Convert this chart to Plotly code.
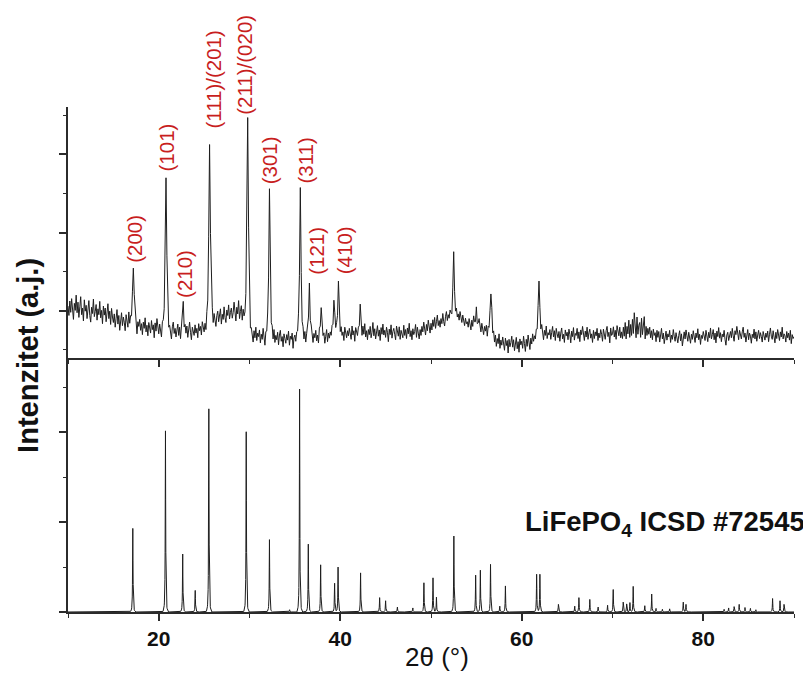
import numpy as np
import plotly.graph_objects as go

# ---------------- data ----------------
# measured pattern: background/noise sampled every 0.1 deg from 10.0 to 90.0 (arb. units)
two_theta_start = 10.0
two_theta_step = 0.1
measured_background = [
    212,188,225,196,231,205,178,219,201,240,
    195,222,183,210,236,190,207,174,228,199,
    214,180,203,226,188,171,209,193,230,185,
    198,216,176,205,190,224,182,201,167,212,
    189,207,172,196,218,180,199,165,206,184,
    170,192,158,181,203,166,188,150,177,195,
    162,184,171,149,190,174,158,197,168,180,
    163,176,148,169,186,157,141,172,160,178,
    150,167,139,171,155,182,146,163,136,170,
    158,143,175,152,164,131,169,148,180,154,
    141,166,150,133,172,157,145,168,139,160,
    152,138,163,147,128,159,171,142,155,133,
    149,166,137,158,126,152,143,169,134,157,
    140,161,132,153,171,145,126,158,150,137,
    164,143,155,131,167,149,160,138,172,154,
    146,168,152,175,158,181,163,190,171,186,
    170,193,176,160,188,199,172,184,205,166,
    191,178,210,183,170,202,188,215,179,196,
    207,181,195,222,186,174,209,192,226,180,
    198,213,176,204,187,170,163,181,152,170,
    146,129,157,138,120,149,131,158,124,143,
    134,151,118,140,127,155,136,112,147,130,
    140,121,150,133,115,144,128,152,119,137,
    126,145,113,138,150,122,134,108,141,129,
    117,139,125,148,112,135,127,143,104,131,
    138,122,146,130,139,126,149,133,118,141,
    128,147,120,136,152,125,140,116,144,132,
    119,142,131,150,123,138,114,145,129,137,
    148,126,140,117,135,152,121,143,130,146,
    133,150,127,141,156,138,147,132,151,140,
    128,153,137,146,124,158,139,131,149,136,
    155,142,127,161,138,149,122,157,141,134,
    150,137,162,145,129,158,140,167,133,149,
    126,152,139,160,131,145,170,136,154,128,
    146,162,135,151,124,157,140,166,138,150,
    132,158,145,121,153,139,164,130,147,155,
    140,126,161,148,135,159,127,150,143,131,
    163,137,152,129,156,141,168,134,149,126,
    154,139,147,165,132,158,143,128,152,137,
    160,146,171,152,138,165,149,176,157,143,
    168,151,177,160,183,155,172,189,162,175,
    158,180,167,193,172,161,186,198,175,190,
    181,202,188,171,195,210,186,178,200,184,
    192,176,198,183,170,189,174,162,181,167,
    172,158,180,165,151,176,160,185,166,154,
    170,149,163,178,157,146,168,152,139,160,
    148,163,135,155,141,150,132,158,127,143,
    120,138,109,129,116,141,104,125,112,133,
    118,99,130,111,124,92,127,108,119,135,
    107,126,98,118,132,103,121,94,128,113,
    122,104,135,116,96,127,109,138,119,101,
    130,115,141,122,136,128,146,133,152,139,
    147,133,158,140,126,150,137,161,129,144,
    138,152,127,145,160,133,149,124,155,141,
    131,147,122,143,156,128,140,119,151,136,
    145,126,153,139,118,148,134,157,125,142,
    137,155,129,146,121,151,139,160,132,124,
    148,133,158,127,144,153,130,141,119,150,
    129,146,136,155,124,143,131,152,140,122,
    153,138,127,149,160,134,145,118,156,137,
    141,159,133,150,127,162,144,136,158,131,
    146,129,158,135,170,128,160,141,176,132,
    165,137,178,142,195,150,131,184,140,163,
    170,132,181,139,163,185,128,160,137,155,
    140,158,131,149,126,153,137,144,121,150,
    132,147,120,140,155,128,143,116,139,148,
    125,141,133,150,119,138,127,152,135,122,
    144,130,118,137,149,123,141,110,132,146,
    128,151,136,122,145,133,117,140,127,149,
    135,119,143,131,154,126,140,114,137,129,
    147,133,124,150,138,121,145,131,156,128,
    139,152,126,143,118,148,134,157,130,144,
    121,140,133,150,127,112,138,145,124,141,
    147,131,155,136,122,149,139,160,133,126,
    150,137,128,146,158,132,143,120,139,152,
    126,143,135,117,140,131,153,128,146,122,
    138,150,129,144,134,120,147,138,125,143,
    132,148,121,140,156,135,127,149,130,118,
    145,129,152,137,124,146,133,158,128,141,
    136,120,147,131,143,125,150,116,139,129,
    134,
]

# measured Bragg peaks (2theta, height above background)
measured_peak_pos = [17.2, 20.8, 22.7, 25.6, 29.8, 32.2, 35.6, 36.6, 37.9, 39.3,
                     39.8, 42.2, 52.5, 55.0, 56.6, 61.9]
measured_peak_height = [161, 401, 55, 462, 542, 362, 366, 131, 71, 86,
                        125, 55, 141, 40, 111, 137]

# reference pattern LiFePO4 ICSD #72545 (2theta, intensity)
reference_peak_pos = [17.14, 20.74, 22.65, 24.02, 25.52, 29.64, 32.21, 34.42, 35.52, 36.48,
                      37.84, 39.38, 39.75, 42.25, 44.34, 45.0, 46.3, 48.0, 49.23, 50.22,
                      50.6, 52.51, 54.93, 55.45, 56.55, 57.58, 58.21, 61.63, 61.99, 64.05,
                      65.85, 66.29, 67.5, 68.42, 69.46, 70.08, 71.18, 71.55, 71.92, 72.28,
                      73.57, 74.31, 74.8, 75.5, 76.3, 77.8, 78.1, 82.3, 82.8, 83.4,
                      83.97, 84.6, 85.2, 85.8, 87.65, 88.46, 88.9]
reference_peak_height = [186, 403, 129, 48, 452, 401, 161, 5, 496, 151,
                         105, 64, 100, 87, 32, 25, 11, 9, 65, 76,
                         33, 169, 82, 93, 106, 13, 58, 84, 84, 17,
                         13, 32, 28, 11, 15, 50, 22, 18, 21, 57,
                         14, 40, 8, 6, 7, 22, 17, 6, 9, 12,
                         17, 10, 8, 5, 30, 25, 17]

# hkl labels and where they sit (2theta, intensity in the measured-pattern units)
hkl_labels = ["(200)", "(101)", "(210)", "(111)/(201)", "(211)/(020)",
              "(301)", "(311)", "(121)", "(410)"]
hkl_label_x = [17.32, 20.82, 22.84, 25.93, 29.46, 32.2, 36.18, 37.36, 40.49]
hkl_label_y = [385, 618, 293, 790, 828, 586, 583, 354, 354]

x_tick_vals = [20, 40, 60, 80]
x_tick_text = ["20", "40", "60", "80"]

# ---------------- build line shapes ----------------
top_profile = [1.0, 0.45, 0.15, 0.05]  # peak shape at 0.1 deg sampling
x_top = np.round(two_theta_start + two_theta_step * np.arange(len(measured_background)), 2)
y_top = np.array(measured_background, dtype=float)
for p, h in zip(measured_peak_pos, measured_peak_height):
    i = int(round((p - two_theta_start) / two_theta_step))
    for k, f in enumerate(top_profile):
        for j in {i - k, i + k}:
            if 0 <= j < len(y_top):
                y_top[j] += h * f

bot_step = 0.02
bot_profile = [1.0, 0.62, 0.33, 0.18, 0.11, 0.075, 0.05, 0.035, 0.026, 0.02,
               0.015, 0.011, 0.008, 0.005, 0.003]
x_bot = np.round(10 + bot_step * np.arange(4001), 2)
y_bot = np.zeros_like(x_bot)
for p, h in zip(reference_peak_pos, reference_peak_height):
    i = int(round((p - 10) / bot_step))
    for k, f in enumerate(bot_profile):
        for j in {i - k, i + k}:
            if 0 <= j < len(y_bot):
                y_bot[j] += h * f

# ---------------- figure ----------------
FONT = "Liberation Sans, Arial, sans-serif"
AX = "#2b2b2b"
RED = "#c81e1e"
SPLIT = 0.502
TOP_RANGE = [78, 721]
BOT_RANGE = [0, 564]

fig = go.Figure()
fig.add_trace(go.Scatter(x=x_top, y=y_top, mode="lines", xaxis="x2", yaxis="y2",
                         line=dict(color="#1e1e1e", width=1), showlegend=False,
                         hoverinfo="skip"))
fig.add_trace(go.Scatter(x=x_bot, y=y_bot, mode="lines", xaxis="x", yaxis="y",
                         line=dict(color="#1e1e1e", width=1), showlegend=False,
                         hoverinfo="skip"))

common_x = dict(range=[10, 90], showgrid=False, zeroline=False, showline=True,
                linecolor=AX, linewidth=1.5, ticks="outside", ticklen=7,
                tickwidth=1.5, tickcolor=AX, tickvals=x_tick_vals, ticktext=x_tick_text,
                minor=dict(tickvals=[10, 30, 50, 70, 90], ticks="outside", ticklen=4,
                           tickwidth=1.3, tickcolor=AX))
common_y = dict(showgrid=False, zeroline=False, showline=True, linecolor=AX,
                linewidth=1.5, ticks="outside", ticklen=7, tickwidth=1.5,
                tickcolor=AX, showticklabels=False, tick0=0, dtick=200,
                minor=dict(tick0=0, dtick=100, ticks="outside", ticklen=3.5,
                           tickwidth=1.3, tickcolor=AX))

annotations = []
for t, lx, ly in zip(hkl_labels, hkl_label_x, hkl_label_y):
    frac = (ly - TOP_RANGE[0]) / (TOP_RANGE[1] - TOP_RANGE[0])
    annotations.append(dict(x=lx, y=frac, xref="x2", yref="y2 domain", text=t,
                            showarrow=False, textangle=-90, xanchor="center",
                            yanchor="middle",
                            font=dict(family=FONT, size=20.5, color=RED)))
annotations.append(dict(x=-0.0545, y=0.508, xref="paper", yref="paper",
                        text="<b>Intenzitet (a.j.)</b>", showarrow=False, textangle=-90,
                        xanchor="center", yanchor="middle",
                        font=dict(family=FONT, size=29, color="#111")))
annotations.append(dict(x=0.508, y=-0.09, xref="paper", yref="paper",
                        text="2θ (°)", showarrow=False, xanchor="center",
                        yanchor="middle", font=dict(family=FONT, size=26, color="#111")))
annotations.append(dict(x=1.018, y=0.176, xref="paper", yref="paper",
                        text="<b>LiFePO<sub>4</sub> ICSD #72545</b>", showarrow=False,
                        xanchor="right", yanchor="middle",
                        font=dict(family=FONT, size=27.5, color="#111")))

# page body has an 8px default margin, so the figure is 8px smaller than the window
fig.update_layout(
    width=803, height=667,
    margin=dict(l=60, r=17, t=99, b=63),
    paper_bgcolor="white", plot_bgcolor="white",
    xaxis=dict(domain=[0, 1], anchor="y", showticklabels=True,
               tickfont=dict(family=FONT, size=21, color="#111", weight="bold"),
               **common_x),
    xaxis2=dict(domain=[0, 1], anchor="y2", showticklabels=False, **common_x),
    yaxis=dict(domain=[0, SPLIT], anchor="x", range=BOT_RANGE, **common_y),
    yaxis2=dict(domain=[SPLIT, 1], anchor="x2", range=TOP_RANGE, **common_y),
    annotations=annotations,
    showlegend=False,
)

fig.write_html("out.html")
